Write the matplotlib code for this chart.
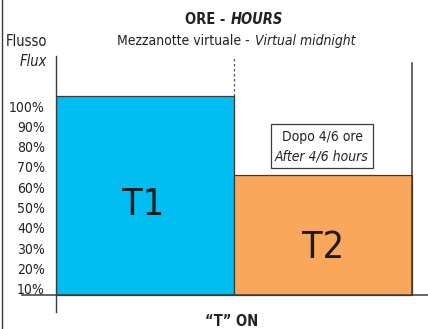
import matplotlib
matplotlib.use("Agg")
import matplotlib.pyplot as plt
from matplotlib.patches import Rectangle
from matplotlib.lines import Line2D
from matplotlib import font_manager

# pick a condensed sans if one exists
cond = None
for f in font_manager.fontManager.ttflist:
    if f.stretch in ("condensed", "semi-condensed", "extra-condensed") or "Narrow" in f.name or "Condensed" in f.name:
        cond = f.name
        break
fam = cond if cond else "Liberation Sans"
plt.rcParams['font.family'] = [fam, 'DejaVu Sans']
if cond and cond.startswith("DejaVu"):
    plt.rcParams['font.stretch'] = 'condensed'

# Data
bands = ["T1", "T2"]
band_start = [0, 1]          # hours segments (relative)
band_width = [1, 1]
flux = [105, 66]             # percent
base_level = 7
band_colors = ["#00BEF2", "#F8A75B"]
ytick_vals = [10, 20, 30, 40, 50, 60, 70, 80, 90, 100]
ytick_labels = ["10%", "20%", "30%", "40%", "50%", "60%", "70%", "80%", "90%", "100%"]

W, H = 428, 329
fig = plt.figure(figsize=(W / 100, H / 100), dpi=100)

left_px, right_px, top_px, bot_px = 56, 428, 56, 312
ax = fig.add_axes([left_px / W, 1 - bot_px / H, (right_px - left_px) / W, (bot_px - top_px) / H])
ppx = 178.0
ppy = 2.033
ax.set_xlim(0, (right_px - left_px) / ppx)
y_at = lambda px: 100 + (106 - px) / ppy
ax.set_ylim(y_at(bot_px), y_at(top_px))

line_col = "#3a3a3a"
for s in ["top", "right", "bottom"]:
    ax.spines[s].set_visible(False)
ax.spines["left"].set_color(line_col)
ax.spines["left"].set_linewidth(1.0)
ax.set_xticks([])
ax.set_yticks(ytick_vals)
ax.set_yticklabels(ytick_labels, fontsize=10, color="#222222")
ax.tick_params(axis="y", length=0, pad=8)

for x0, w, v, c in zip(band_start, band_width, flux, band_colors):
    ax.bar(x0, v - base_level, width=w, bottom=base_level, align="edge",
           color=c, edgecolor=line_col, linewidth=0.9, zorder=2)

x_left = (22 - left_px) / ppx
ax.plot([x_left, ax.get_xlim()[1]], [base_level, base_level], color=line_col,
        lw=1.1, clip_on=False, zorder=3)
ax.plot([1, 1], [flux[0], y_at(57)], color="#555555", lw=0.9, ls=(0, (2, 2)), zorder=3)
ax.plot([2, 2], [base_level, y_at(63)], color=line_col, lw=1.1, zorder=3)

ax.text(0.49, y_at(205), bands[0], fontsize=27, ha="center", va="center", color="#1a1a1a",
        fontweight="light", zorder=4)
ax.text(1.5, y_at(248), bands[1], fontsize=27, ha="center", va="center", color="#1a1a1a",
        fontweight="light", zorder=4)

bx0, bx1 = (271 - left_px) / ppx, (373 - left_px) / ppx
ax.add_patch(Rectangle((bx0, y_at(168)), bx1 - bx0, y_at(124) - y_at(168),
                       facecolor="white", edgecolor=line_col, lw=0.9, zorder=4))
ax.text((bx0 + bx1) / 2, y_at(137), "Dopo 4/6 ore", fontsize=10, ha="center", va="center",
        color="#222222", zorder=5)
ax.text((bx0 + bx1) / 2, y_at(156), "After 4/6 hours", fontsize=10, ha="center", va="center",
        style="italic", color="#222222", zorder=5)

fy = lambda py: 1 - py / H
fx = lambda px: px / W
tc = "#222222"
fig.text(fx(230), fy(19), "ORE - ", fontsize=10.5, fontweight="bold", ha="right", va="center", color=tc)
fig.text(fx(231), fy(19), "HOURS", fontsize=10.5, fontweight="bold", style="italic", ha="left", va="center", color=tc)
fig.text(fx(254), fy(41), "Mezzanotte virtuale - ", fontsize=10, ha="right", va="center", color=tc)
fig.text(fx(255), fy(41), "Virtual midnight", fontsize=10, style="italic", ha="left", va="center", color=tc)
fig.text(fx(47), fy(42), "Flusso", fontsize=10.5, ha="right", va="center", color=tc)
fig.text(fx(47), fy(62), "Flux", fontsize=10.5, style="italic", ha="right", va="center", color=tc)
fig.text(fx(232), fy(321), "\u201cT\u201d ON", fontsize=10.5, fontweight="bold", ha="center", va="center", color=tc)

fig.add_artist(Line2D([fx(2), fx(2)], [0, 1], color=line_col, lw=1.0, transform=fig.transFigure))

fig.savefig("out.png", dpi=100)
